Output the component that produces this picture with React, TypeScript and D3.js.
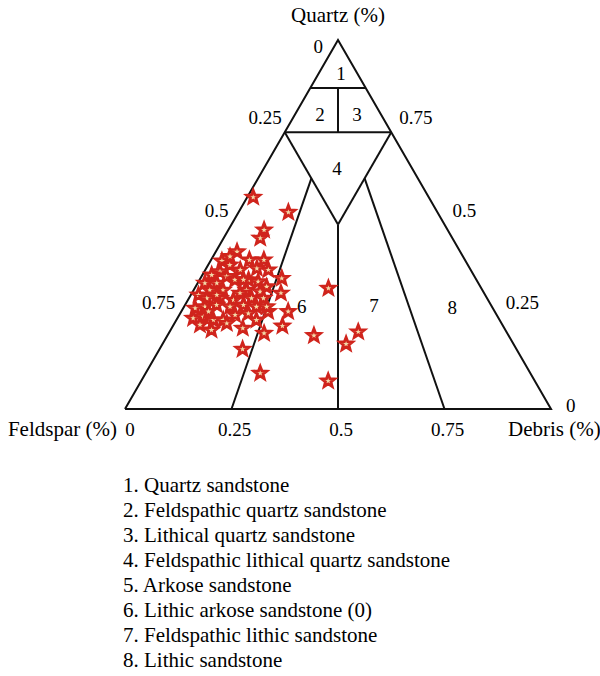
import React from 'react';
import * as d3 from 'd3';

// sample points as [quartz %, feldspar %, debris %]
const samples: [number, number, number][] = [
  [57.4, 41.2, 1.4], [53.3, 35.0, 11.7], [48.5, 43.1, 8.4], [46.3, 45.1, 8.6],
  [35.4, 45.5, 19.1], [31.4, 47.7, 20.9], [26.4, 48.5, 25.1], [22.5, 51.8, 25.7],
  [20.5, 57.1, 22.4], [21.9, 61.4, 16.7], [16.2, 64.3, 19.5], [9.7, 63.4, 26.9],
  [32.7, 35.9, 31.4], [19.9, 45.7, 34.4], [17.6, 39.3, 43.1], [20.9, 34.8, 44.3],
  [7.6, 48.5, 43.9],
  [42.6, 52.4, 5.0], [40.1, 57.2, 2.7], [39.0, 55.9, 5.1], [40.4, 50.6, 9.0],
  [40.4, 47.2, 12.4], [37.7, 47.5, 14.8], [38.1, 50.0, 11.9], [37.7, 54.1, 8.2],
  [37.2, 59.1, 3.7], [36.3, 61.5, 2.2], [35.9, 58.2, 5.9], [35.0, 56.7, 8.3],
  [34.1, 64.2, 1.7], [34.1, 61.4, 4.5], [35.0, 53.5, 11.5], [34.5, 51.5, 14.0],
  [33.1, 50.2, 16.7], [32.2, 64.0, 3.8], [32.2, 60.9, 6.9], [32.2, 55.4, 12.4],
  [31.8, 52.4, 15.8], [30.9, 67.3, 1.8], [30.0, 65.8, 4.2], [30.0, 62.7, 7.3],
  [29.5, 59.8, 10.7], [30.0, 55.3, 14.7], [30.0, 52.5, 17.5], [27.3, 69.9, 2.8],
  [27.7, 67.4, 4.9], [28.2, 64.4, 7.4], [27.7, 61.5, 10.8], [28.2, 58.1, 13.7],
  [27.7, 55.3, 17.0], [26.4, 53.2, 20.4], [24.6, 71.7, 3.7], [25.0, 69.1, 5.9],
  [24.1, 67.2, 8.7], [24.1, 64.9, 11.0], [25.5, 61.4, 13.1], [25.9, 58.1, 16.0],
  [24.1, 57.1, 18.8], [22.8, 71.0, 6.2], [21.4, 69.0, 9.6], [23.2, 64.5, 12.3],
  [35.0, 54.7, 10.3], [41.3, 54.7, 4.0], [30.9, 63.0, 6.1], [31.4, 57.3, 11.3],
  [27.7, 52.9, 19.4], [26.4, 67.2, 6.4],
];

// field boundaries, each segment from [q, r] to [q, r] (fractions)
const boundaries: [number, number][][] = [
  [[0, 0], [0, 1], [1, 0], [0, 0]],
  [[0.87, 0], [0.87, 0.13]],
  [[0.75, 0], [0.75, 0.25]],
  [[0.87, 0.065], [0.75, 0.125]],
  [[0.75, 0], [0.5, 0.25]],
  [[0.75, 0.25], [0.5, 0.25]],
  [[0.5, 0.25], [0, 0.5]],
  [[0.625, 0.125], [0, 0.25]],
  [[0.625, 0.25], [0, 0.75]],
];

// field number labels at [q, r]
const fieldLabels: [string, number, number][] = [
  ['1', 0.908, 0.053], ['2', 0.797, 0.059], ['3', 0.797, 0.146], ['4', 0.65, 0.1725],
  ['5', 0.27, 0.15], ['6', 0.276, 0.277], ['7', 0.279, 0.445], ['8', 0.274, 0.631],
];

const ticks = [0, 0.25, 0.5, 0.75];

const legendItems = [
  '1. Quartz sandstone',
  '2. Feldspathic quartz sandstone',
  '3. Lithical quartz sandstone',
  '4. Feldspathic lithical quartz sandstone',
  '5. Arkose sandstone',
  '6. Lithic arkose sandstone (0)',
  '7. Feldspathic lithic sandstone',
  '8. Lithic sandstone',
];

const font = '"Liberation Serif", "DejaVu Serif", serif';

const xScale = d3.scaleLinear().domain([0, 1]).range([125, 551]);
const yScale = d3.scaleLinear().domain([0, 1]).range([409, 40]);
const px = (q: number, r: number) => xScale(r + q / 2);
const py = (q: number) => yScale(q);

const starPath = (() => {
  const pts: [number, number][] = [];
  for (let i = 0; i < 10; i++) {
    const a = (Math.PI / 5) * i - Math.PI / 2;
    const rad = i % 2 === 0 ? 6.8 : 2.9;
    pts.push([Math.cos(a) * rad, Math.sin(a) * rad]);
  }
  return d3.line()(pts) + 'Z';
})();

export default function App() {
  const line = d3.line<[number, number]>().x(d => px(d[0], d[1])).y(d => py(d[0]));

  return (
    <svg width={600} height={676} style={{ position: 'absolute', left: 0, top: 0, background: '#fff' }}
      fontFamily={font} fontSize={19}>
      <text x={338} y={22} textAnchor="middle" fontSize={21}>Quartz (%)</text>

      {fieldLabels.map(([t, q, r]) => (
        <text key={t} x={px(q, r)} y={py(q) + 6} textAnchor="middle">{t}</text>
      ))}

      {boundaries.map((b, i) => (
        <path key={i} d={line(b) || ''} fill="none" stroke="#111" strokeWidth={2} strokeLinejoin="miter" />
      ))}

      {samples.map(([q, , r], i) => (
        <path key={i} d={starPath} transform={`translate(${px(q / 100, r / 100)},${py(q / 100)})`}
          fill="#f2d9a8" stroke="#d0241c" strokeWidth={2.8} strokeLinejoin="miter" />
      ))}

      {/* left side: feldspar */}
      {ticks.map(t => {
        const q = 1 - t;
        const x = t === 0 ? px(q, 0) - 15 : px(q, 0) - 3;
        const y = t === 0 ? py(q) + 13 : py(q) - 8;
        return <text key={'l' + t} x={x} y={y} textAnchor="end">{t}</text>;
      })}

      {/* right side: quartz */}
      {ticks.map(t => {
        const x = t === 0 ? px(0, 1) + 15 : px(t, 1 - t) + 8;
        const y = t === 0 ? py(0) + 3 : py(t) - 8;
        return <text key={'r' + t} x={x} y={y} textAnchor="start">{t}</text>;
      })}

      {/* bottom: debris */}
      {ticks.map(t => (
        <text key={'b' + t} x={xScale(t) + (t === 0 ? 5 : 3)} y={436} textAnchor="middle">{t}</text>
      ))}
      <text x={117} y={436} textAnchor="end" fontSize={21}>Feldspar (%)</text>
      <text x={508} y={436} textAnchor="start" fontSize={21}>Debris (%)</text>

      <g fontSize={21}>
        {legendItems.map((s, i) => (
          <text key={s} x={123} y={492 + i * 25}>{s}</text>
        ))}
      </g>
    </svg>
  );
}
